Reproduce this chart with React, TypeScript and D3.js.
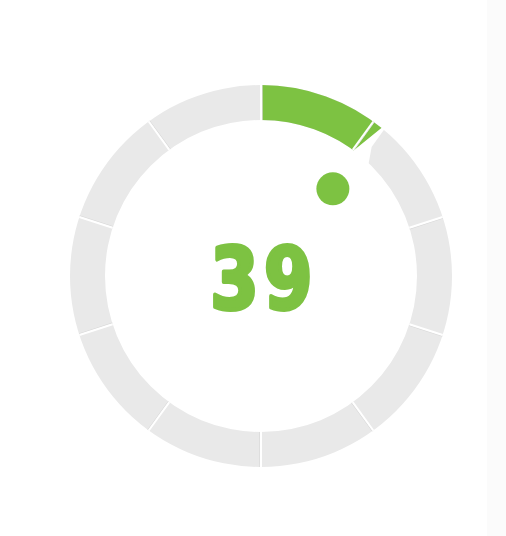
import React, { useEffect, useRef } from 'react';
import * as d3 from 'd3';

// gauge data
const gaugeValue = 39;
const gaugeMax = 360;
const segmentCount = 10;
const valueLabel = '39';

const App: React.FC = () => {
  const ref = useRef<SVGSVGElement>(null);

  useEffect(() => {
    if (!ref.current) return;
    const svg = d3.select(ref.current);
    svg.selectAll('*').remove();

    const width = 506;
    const height = 536;
    const cx = 261;
    const cy = 276;
    const rOuter = 191;
    const rInner = 156;

    svg.attr('width', width).attr('height', height);

    // faint strip at the right edge
    svg.append('rect')
      .attr('x', 487).attr('y', 0).attr('width', 19).attr('height', height)
      .attr('fill', '#fbfbfb');

    const angle = d3.scaleLinear().domain([0, gaugeMax]).range([0, 2 * Math.PI]);
    const g = svg.append('g')
      .attr('transform', `translate(${cx},${cy})`);

    const arc = d3.arc<{ startAngle: number; endAngle: number }>()
      .innerRadius(rInner)
      .outerRadius(rOuter);

    // background ring
    g.append('path')
      .attr('d', arc({ startAngle: 0, endAngle: 2 * Math.PI }))
      .attr('fill', '#e9e9e9');

    // progress arc
    const valueAngle = angle(gaugeValue);
    g.append('path')
      .attr('d', arc({ startAngle: 0, endAngle: valueAngle + 0.014 }))
      .attr('fill', '#7dc242');

    // segment ticks
    const ticks = d3.range(segmentCount).map((i) => (i * gaugeMax) / segmentCount);
    const pt = (a: number, r: number): [number, number] => [Math.sin(a) * r, -Math.cos(a) * r];
    ticks.forEach((t) => {
      const a = angle(t);
      const [x1, y1] = pt(a + 0.006, rOuter);
      const [x2, y2] = pt(a + 0.008, rInner);
      g.append('line')
        .attr('x1', x1).attr('y1', y1).attr('x2', x2).attr('y2', y2)
        .attr('stroke', '#dadada').attr('stroke-width', 1);
      const [x3, y3] = pt(a, rOuter);
      const [x4, y4] = pt(a, rInner);
      g.append('line')
        .attr('x1', x3).attr('y1', y3).attr('x2', x4).attr('y2', y4)
        .attr('stroke', '#ffffff').attr('stroke-width', 2);
    });

    // pointer notch cut into the ring
    const deg = Math.PI / 180;
    const notch = [
      pt(valueAngle + 0.4 * deg, rOuter + 4),
      pt(valueAngle + 1.0 * deg, rOuter + 4),
      pt(valueAngle + 1.6 * deg, 170),
      pt(valueAngle + 5.4 * deg, rInner - 3),
      pt(valueAngle - 2.9 * deg, rInner - 3),
    ];
    g.append('path')
      .attr('d', d3.line()(notch) + 'Z')
      .attr('fill', '#ffffff');

    // pointer dot
    const [dx, dy] = pt(valueAngle + 0.5 * deg, 113);
    g.append('circle')
      .attr('cx', dx).attr('cy', dy).attr('r', 16.5)
      .attr('fill', '#7dc242');

    // value label
    g.append('text')
      .attr('transform', 'translate(3,33) scale(0.9,1)')
      .attr('text-anchor', 'middle')
      .attr('font-family', '"DejaVu Sans Condensed", "DejaVu Sans", sans-serif')
      .attr('font-weight', 'bold')
      .attr('font-size', 86)
      .attr('letter-spacing', 6)
      .attr('fill', '#7dc242')
      .attr('stroke', '#7dc242')
      .attr('stroke-width', 4)
      .attr('stroke-linejoin', 'round')
      .text(valueLabel);
  }, []);

  return (
    <svg
      ref={ref}
      style={{ position: 'absolute', left: 0, top: 0, display: 'block', background: '#fff' }}
    />
  );
};

export default App;
